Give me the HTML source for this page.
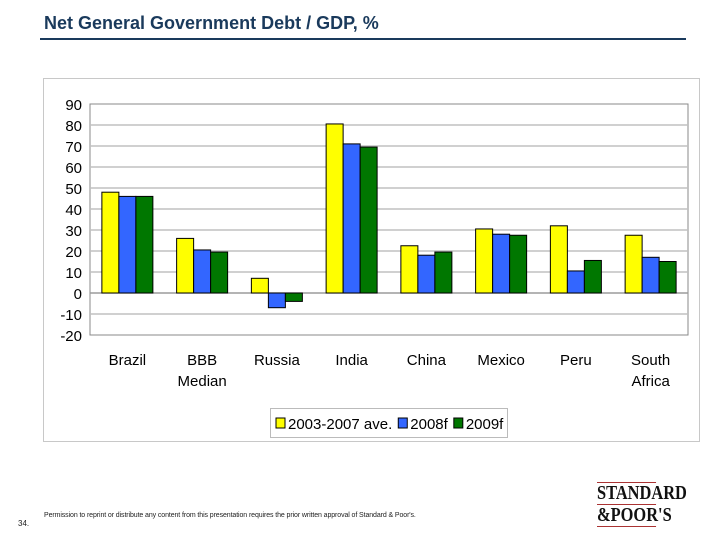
<!DOCTYPE html>
<html><head><meta charset="utf-8"><style>
body{margin:0;width:720px;height:540px;background:#fff;position:relative;font-family:"Liberation Sans",Arial,sans-serif;overflow:hidden}
</style></head><body>
<div style="position:absolute;left:44px;top:13px;font-size:18px;font-weight:bold;color:#1a3a5c">Net General Government Debt / GDP, %</div>
<div style="position:absolute;left:40px;top:38px;width:646px;height:2px;background:#1a3a5c"></div>
<svg id="chart" width="720" height="540" style="position:absolute;left:0;top:0" font-family="Liberation Sans, Arial, sans-serif"></svg>
<div style="position:absolute;left:44px;top:512px;font-size:7px;color:#222;letter-spacing:-0.1px">Permission to reprint or distribute any content from this presentation requires the prior written approval of Standard &amp; Poor's.</div>
<div style="position:absolute;left:18px;top:519px;font-size:8px;color:#222">34.</div>
<div style="position:absolute;left:597px;top:482px;font-family:'Liberation Serif',serif;font-size:20px;line-height:21px;color:#111;font-weight:bold;transform:scaleX(0.82);transform-origin:left top;white-space:nowrap">
<div style="border-top:1px solid #a33;width:72px"></div>STANDARD<div style="border-top:1px solid #a33;width:72px"></div>&amp;POOR'S<div style="border-top:1px solid #a33;width:72px"></div></div>
<script>
const categories=[["Brazil"],["BBB","Median"],["Russia"],["India"],["China"],["Mexico"],["Peru"],["South","Africa"]];
const seriesNames=["2003-2007 ave.","2008f","2009f"];
const seriesColors=["#ffff00","#3366ff","#007700"];
const s2003_2007=[48,26,7,80.5,22.5,30.5,32,27.5];
const s2008=[46,20.5,-7,71,18,28,10.5,17];
const s2009=[46,19.5,-4,69.5,19.5,27.5,15.5,15];
const yTicks=[90,80,70,60,50,40,30,20,10,0,-10,-20];
const series=[s2003_2007,s2008,s2009];
const svg=document.getElementById('chart');
const NS='http://www.w3.org/2000/svg';
const L=90,R=688,T=104,B=335,ymin=-20,ymax=90;
const y=v=>B-(v-ymin)/(ymax-ymin)*(B-T);
const bw=(R-L)/categories.length;
const x=i=>L+bw*i;
function mk(t,a){const e=document.createElementNS(NS,t);for(const k in a)e.setAttribute(k,a[k]);svg.appendChild(e);return e;}
let box=mk('rect',{x:43.5,y:78.5,width:656,height:363,fill:'#fff',stroke:'#c8c8c8'});

let pa=mk('rect',{x:L,y:T,width:R-L,height:B-T,fill:'#fff',stroke:'#888'});

yTicks.forEach(v=>{
 if(v!==ymin&&v!==ymax){let g=mk('line',{x1:L,x2:R,y1:y(v),y2:y(v),stroke:'#c0c0c0','stroke-width':1.5});
 }
 let t=mk('text',{x:L-8,y:y(v)+6,'text-anchor':'end','font-size':15,fill:'#000'});t.textContent=v;
 
});
let z=mk('line',{x1:L,x2:R,y1:y(0),y2:y(0),stroke:'#888'});

categories.forEach((c,i)=>{
 const cx=x(i)+bw/2;
 series.forEach((s,j)=>{
  const v=s[i];const bx=cx-25.5+j*17;
  let r=mk('rect',{x:bx,y:Math.min(y(v),y(0)),width:17,height:Math.abs(y(v)-y(0)),fill:seriesColors[j],stroke:'#000','stroke-width':1});
  
  
 });
 c.forEach((ln,k)=>{let t=mk('text',{x:cx,y:365+k*21,'text-anchor':'middle','font-size':15});t.textContent=ln;
  });
});
let lg=mk('rect',{x:270.5,y:408.5,width:237,height:29,fill:'#fff',stroke:'#bbb'});

let lx=276;
seriesNames.forEach((n,j)=>{
 let sw=mk('rect',{x:lx,y:418,width:9,height:10,fill:seriesColors[j],stroke:'#000'});
 
 let t=mk('text',{x:lx+12,y:429,'font-size':15});t.textContent=n;
 
 lx+=12+t.getComputedTextLength()+6;
});
</script>
</body></html>
